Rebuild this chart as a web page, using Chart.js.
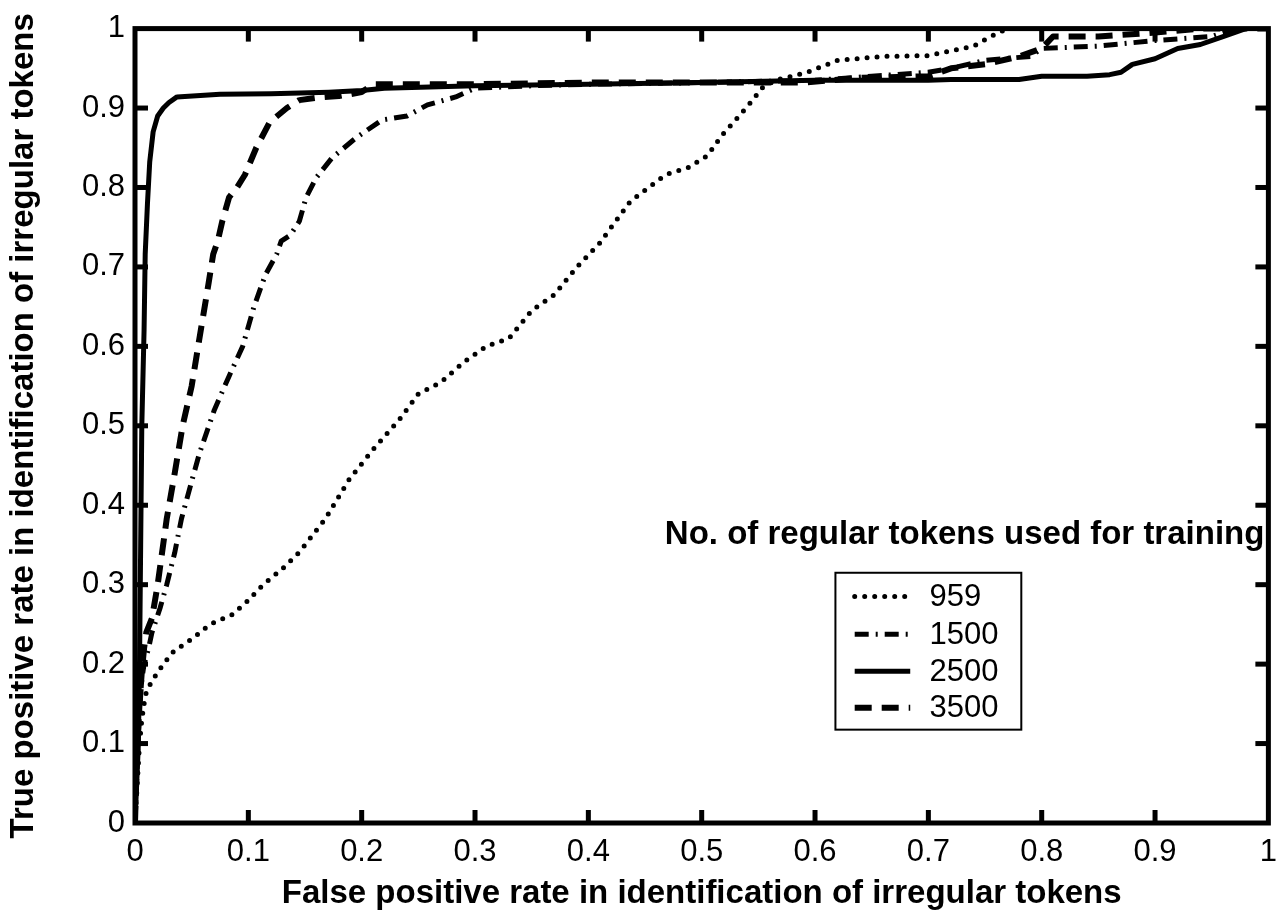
<!DOCTYPE html>
<html lang="en">
<head>
    <meta charset="UTF-8">
    <title>ROC curves - irregular tokens</title>
    <style>
        body {
            margin: 0;
            background: #fff;
        }
        #roc-chart {
            display: block;
        }
    </style>
</head>
<body>
    <canvas id="roc-chart" width="1288" height="917"></canvas>

    <script src="https://cdn.jsdelivr.net/npm/chart.js"></script>
    <script>
        // values (false positive rate -> true positive rate)
        const seriesLabels = ['959', '1500', '2500', '3500'];

        const fpr959 = [0, 0.002, 0.004, 0.006, 0.008, 0.01, 0.015, 0.025, 0.034, 0.051, 0.066, 0.086, 0.099, 0.113, 0.13, 0.145, 0.168, 0.189, 0.21, 0.233, 0.25, 0.27, 0.29, 0.31, 0.33, 0.35, 0.37, 0.39, 0.41, 0.437, 0.468, 0.488, 0.505, 0.518, 0.533, 0.545, 0.553, 0.565, 0.58, 0.593, 0.62, 0.66, 0.70, 0.72, 0.74, 0.755, 0.77, 0.8, 0.9, 1.0];
        const tpr959 = [0, 0.05, 0.1, 0.13, 0.15, 0.165, 0.179, 0.2, 0.216, 0.2325, 0.25, 0.2625, 0.279, 0.30, 0.32, 0.341, 0.383, 0.4325, 0.47, 0.5075, 0.54, 0.555, 0.58, 0.60, 0.61, 0.645, 0.665, 0.70, 0.73, 0.7825, 0.816, 0.825, 0.84, 0.866, 0.89, 0.91, 0.925, 0.935, 0.94, 0.945, 0.96, 0.965, 0.966, 0.972, 0.978, 0.99, 1.0, 1.0, 1.0, 1.0];

        const fpr1500 = [0, 0.002, 0.004, 0.006, 0.008, 0.012, 0.015, 0.022, 0.028, 0.035, 0.041, 0.05, 0.057, 0.07, 0.083, 0.095, 0.105, 0.115, 0.125, 0.129, 0.137, 0.145, 0.151, 0.16, 0.174, 0.195, 0.218, 0.24, 0.258, 0.283, 0.3, 0.35, 0.4, 0.5, 0.6, 0.65, 0.7, 0.72, 0.75, 0.79, 0.8, 0.85, 0.9, 0.95, 0.97, 1.0];
        const tpr1500 = [0, 0.08, 0.14, 0.18, 0.2, 0.22, 0.24, 0.27, 0.30, 0.34, 0.383, 0.43, 0.466, 0.52, 0.5625, 0.6, 0.65, 0.69, 0.716, 0.7325, 0.74, 0.7575, 0.7875, 0.8125, 0.8375, 0.8625, 0.885, 0.89, 0.904, 0.914, 0.925, 0.928, 0.93, 0.932, 0.935, 0.94, 0.945, 0.95, 0.96, 0.965, 0.975, 0.978, 0.985, 0.99, 1.0, 1.0];

        const fpr2500 = [0, 0.003, 0.004, 0.005, 0.006, 0.008, 0.009, 0.011, 0.013, 0.016, 0.02, 0.025, 0.03, 0.037, 0.075, 0.12, 0.171, 0.2, 0.22, 0.3, 0.4, 0.5, 0.6, 0.7, 0.72, 0.78, 0.8, 0.84, 0.86, 0.87, 0.88, 0.9, 0.92, 0.94, 0.96, 0.97, 0.98, 1.0];
        const tpr2500 = [0, 0.1, 0.2, 0.35, 0.5, 0.62, 0.716, 0.78, 0.8325, 0.87, 0.89, 0.9, 0.907, 0.914, 0.9175, 0.918, 0.92, 0.922, 0.925, 0.928, 0.93, 0.932, 0.935, 0.935, 0.936, 0.936, 0.94, 0.94, 0.942, 0.945, 0.955, 0.962, 0.975, 0.98, 0.99, 0.995, 1.0, 1.0];

        const fpr3500 = [0, 0.002, 0.004, 0.006, 0.008, 0.01, 0.015, 0.02, 0.028, 0.035, 0.042, 0.05, 0.058, 0.065, 0.069, 0.073, 0.077, 0.083, 0.09, 0.097, 0.107, 0.119, 0.134, 0.145, 0.16, 0.18, 0.2, 0.21, 0.3, 0.4, 0.5, 0.59, 0.64, 0.7, 0.72, 0.75, 0.78, 0.8, 0.81, 0.85, 0.9, 0.94, 0.97, 1.0];
        const tpr3500 = [0, 0.1, 0.15, 0.19, 0.22, 0.24, 0.258, 0.3, 0.383, 0.44, 0.5, 0.55, 0.62, 0.68, 0.716, 0.7325, 0.7575, 0.7875, 0.8, 0.816, 0.85, 0.8825, 0.9, 0.91, 0.913, 0.915, 0.92, 0.93, 0.93, 0.932, 0.932, 0.932, 0.938, 0.94, 0.95, 0.955, 0.965, 0.975, 0.99, 0.99, 0.995, 1.0, 1.0, 1.0];

        const tickValues = [0, 0.1, 0.2, 0.3, 0.4, 0.5, 0.6, 0.7, 0.8, 0.9, 1];

        const xTitle = 'False positive rate in identification of irregular tokens';
        const yTitle = 'True positive rate in identification of irregular tokens';
        const legendTitle = 'No. of regular tokens used for training';

        const FONT = '"Liberation Sans", Arial, Helvetica, sans-serif';

        function toPoints(xs, ys) {
            return xs.map((x, i) => ({ x: x, y: ys[i] }));
        }

        // matlab-like line styles, heavy like the scanned figure
        const lineStyles = [
            { borderWidth: 5, borderDash: [0, 10], borderCapStyle: 'round' },
            { borderWidth: 5, borderDash: [14, 7, 2, 7], borderCapStyle: 'butt' },
            { borderWidth: 5, borderDash: [], borderCapStyle: 'butt' },
            { borderWidth: 6, borderDash: [17, 10], borderCapStyle: 'butt' }
        ];

        const allX = [fpr959, fpr1500, fpr2500, fpr3500];
        const allY = [tpr959, tpr1500, tpr2500, tpr3500];

        const datasets = seriesLabels.map((label, i) => ({
            label: label,
            data: toPoints(allX[i], allY[i]),
            showLine: true,
            fill: false,
            borderColor: '#000',
            backgroundColor: '#000',
            pointRadius: 0,
            tension: 0,
            borderJoinStyle: 'round',
            ...lineStyles[i]
        }));

        // box around the plot + inward ticks on all four sides + legend
        const matlabAxes = {
            id: 'matlabAxes',
            afterDraw(chart) {
                const ctx = chart.ctx;
                const area = chart.chartArea;
                const xs = chart.scales.x;
                const ys = chart.scales.y;
                const tickLen = 13;

                ctx.save();
                ctx.setLineDash([]);
                ctx.lineCap = 'butt';
                ctx.strokeStyle = '#000';
                ctx.fillStyle = '#000';
                tickValues.forEach(v => {
                    if (v <= 0 || v >= 1) return;
                    const px = xs.getPixelForValue(v);
                    const py = ys.getPixelForValue(v);
                    ctx.fillRect(px - 2.5, area.bottom - tickLen, 5, tickLen);
                    ctx.fillRect(px - 2.5, area.top, 5, tickLen);
                    ctx.fillRect(area.left, py - 2.5, tickLen, 5);
                    ctx.fillRect(area.right - tickLen, py - 2.5, tickLen, 5);
                });

                ctx.lineWidth = 5;
                ctx.strokeRect(area.left, area.top, area.right - area.left, area.bottom - area.top);

                // legend, anchored in data space
                ctx.font = 'bold 33px ' + FONT;
                ctx.textAlign = 'right';
                ctx.textBaseline = 'middle';
                ctx.fillText(legendTitle, area.right - 4, ys.getPixelForValue(0.3625));

                const boxL = xs.getPixelForValue(0.618);
                const boxR = xs.getPixelForValue(0.782);
                const boxT = ys.getPixelForValue(0.315);
                const boxB = ys.getPixelForValue(0.1175);
                ctx.lineWidth = 2;
                ctx.fillStyle = '#fff';
                ctx.fillRect(boxL, boxT, boxR - boxL, boxB - boxT);
                ctx.strokeRect(boxL, boxT, boxR - boxL, boxB - boxT);

                const rowY = [0.285, 0.2375, 0.191, 0.145];
                const sampleL = xs.getPixelForValue(0.635);
                const sampleR = xs.getPixelForValue(0.684);
                const textX = xs.getPixelForValue(0.701);
                ctx.font = '31px ' + FONT;
                ctx.textAlign = 'left';
                chart.data.datasets.forEach((ds, i) => {
                    const py = ys.getPixelForValue(rowY[i]);
                    ctx.save();
                    ctx.strokeStyle = '#000';
                    ctx.lineWidth = ds.borderWidth;
                    ctx.lineCap = ds.borderCapStyle;
                    ctx.setLineDash(ds.borderDash);
                    ctx.beginPath();
                    ctx.moveTo(sampleL, py);
                    ctx.lineTo(sampleR, py);
                    ctx.stroke();
                    ctx.restore();
                    ctx.fillStyle = '#000';
                    ctx.fillText(ds.label, textX, py + 1);
                });
                ctx.restore();
            }
        };

        const tickFormat = value => String(Number(value.toFixed(1)));

        const chart = new Chart(document.getElementById('roc-chart').getContext('2d'), {
            type: 'scatter',
            data: { datasets: datasets },
            options: {
                responsive: false,
                animation: false,
                devicePixelRatio: 1,
                layout: {
                    padding: { top: 23, right: 15, left: 0, bottom: 0 }
                },
                plugins: {
                    legend: { display: false },
                    tooltip: { enabled: false }
                },
                scales: {
                    x: {
                        type: 'linear',
                        min: 0,
                        max: 1,
                        grid: { display: false, drawTicks: false },
                        border: { display: false },
                        ticks: {
                            stepSize: 0.1,
                            maxRotation: 0,
                            autoSkip: false,
                            padding: 11,
                            color: '#000',
                            font: { family: FONT, size: 31 },
                            callback: tickFormat
                        },
                        title: {
                            display: true,
                            text: xTitle,
                            color: '#000',
                            padding: { top: 0, bottom: 3 },
                            font: { family: FONT, size: 33, weight: 'bold' }
                        },
                        afterFit(scale) {
                            scale.height = 94;
                        }
                    },
                    y: {
                        type: 'linear',
                        min: 0,
                        max: 1,
                        grid: { display: false, drawTicks: false },
                        border: { display: false },
                        ticks: {
                            stepSize: 0.1,
                            autoSkip: false,
                            padding: 10,
                            color: '#000',
                            font: { family: FONT, size: 31 },
                            callback: tickFormat
                        },
                        title: {
                            display: true,
                            text: yTitle,
                            color: '#000',
                            padding: { top: 4, bottom: 0 },
                            font: { family: FONT, size: 33, weight: 'bold' }
                        },
                        afterFit(scale) {
                            scale.width = 135;
                        }
                    }
                }
            },
            plugins: [matlabAxes]
        });
    </script>
</body>
</html>
